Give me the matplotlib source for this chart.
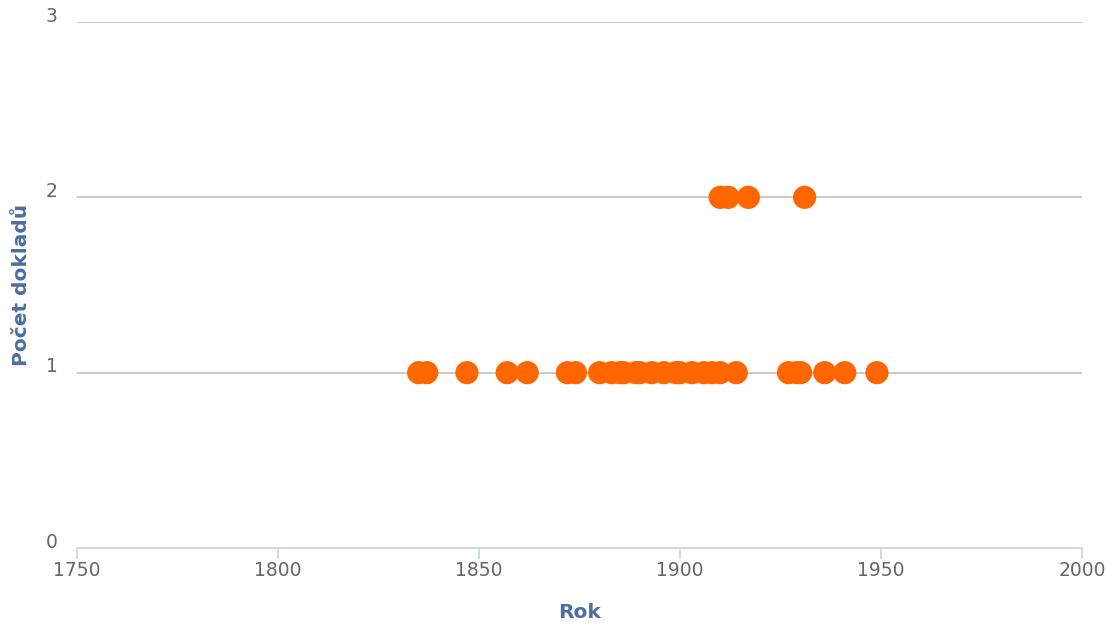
import matplotlib
matplotlib.use("Agg")
import matplotlib.pyplot as plt
import matplotlib.transforms as mtransforms

# Data
years_count1 = [1835, 1837, 1847, 1857, 1862, 1872, 1874, 1880, 1883, 1885, 1886,
                1889, 1890, 1893, 1896, 1899, 1900, 1903, 1906, 1908, 1910, 1914,
                1927, 1929, 1930, 1936, 1941, 1949]
counts1 = [1] * len(years_count1)
years_count2 = [1910, 1912, 1917, 1931]
counts2 = [2] * len(years_count2)

x_ticks = [1750, 1800, 1850, 1900, 1950, 2000]
y_ticks = [0, 1, 2, 3]
x_title = "Rok"
y_title = "Počet dokladů"

plt.rcParams['font.family'] = ['DejaVu Sans']
fig = plt.figure(figsize=(11.07, 6.25), dpi=100)
ax = fig.add_axes([77/1107, 1-548/625, (1082-77)/1107, (548-22)/625])

for y in y_ticks[1:]:
    ax.axhline(y, color="#c0c0c0", lw=1.2, zorder=1)

xs = years_count1 + years_count2
ys = counts1 + counts2
ax.scatter(xs, ys, s=280, color="#ff6600", edgecolors="none", zorder=3, clip_on=False)

ax.set_xlim(1750, 2000)
ax.set_ylim(0, 3)
ax.set_xticks(x_ticks)
ax.set_yticks(y_ticks)
for s in ["top", "right", "left"]:
    ax.spines[s].set_visible(False)
ax.spines["bottom"].set_color("#ccd6eb")
ax.spines["bottom"].set_linewidth(1.3)
ax.tick_params(axis="x", colors="#ccd6eb", length=8, width=1.3, labelcolor="#666666",
               labelsize=13.5, pad=1)
ax.tick_params(axis="y", length=0, labelcolor="#666666", labelsize=13.5, pad=14)
offset = mtransforms.ScaledTranslation(0, 6/100, fig.dpi_scale_trans)
for lbl in ax.get_yticklabels():
    lbl.set_verticalalignment("center")
    lbl.set_transform(lbl.get_transform() + offset)

fig.text(579/1107, 1-613/625, x_title, ha="center", va="center", fontsize=14.5,
         fontweight="bold", color="#4a6fa0")
fig.text(22/1107, 1-285/625, y_title, ha="center", va="center", rotation=90,
         fontsize=14.5, fontweight="bold", color="#4a6fa0")

fig.savefig("out.png", dpi=100)
